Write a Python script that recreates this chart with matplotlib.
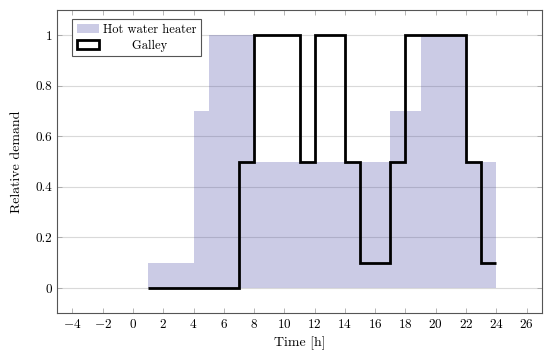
import numpy as np
import matplotlib.pyplot as plt
from matplotlib.patches import Patch

plt.rcParams['font.family'] = 'serif'
plt.rcParams['font.serif'] = ['cmr10', 'DejaVu Serif']
plt.rcParams['mathtext.fontset'] = 'cm'
plt.rcParams['axes.formatter.use_mathtext'] = True

# hourly values, hour h covers [h, h+1)
edges = np.arange(1, 25)
heater = [0.1, 0.1, 0.1, 0.7, 1, 1, 1,
          0.5, 0.5, 0.5, 0.5, 0.5, 0.5, 0.5, 0.5, 0.5,
          0.7, 0.7, 1, 1, 1, 0.5, 0.5]
galley = [0, 0, 0, 0, 0, 0, 0.5, 1, 1, 1, 0.5, 1, 1, 0.5,
          0.1, 0.1, 0.5, 1, 1, 1, 1, 0.5, 0.1]

fig = plt.figure(figsize=(5.5, 3.59), dpi=100)
ax = fig.add_axes([0.1042, 0.1273, 0.8807, 0.8449])

ax.grid(axis='y', color='#d9d9d9', lw=0.8)
ax.set_axisbelow(True)

ax.stairs(heater, edges, fill=True, color='#333399', alpha=0.25, lw=0)
ax.stairs(galley, edges, baseline=None, color='black', lw=2.0)

ax.set_xlim(-5, 27)
ax.set_ylim(-0.1, 1.1)
ax.set_xticks(np.arange(-4, 27, 2))
ax.set_yticks([0, 0.2, 0.4, 0.6, 0.8, 1])
ax.set_yticklabels(['0', '0.2', '0.4', '0.6', '0.8', '1'])
ax.tick_params(direction='in', top=True, right=True, labelsize=9.5,
               length=3.5, width=0.5, color='#999999')
for s in ax.spines.values():
    s.set_linewidth(0.8)
    s.set_color('#555555')

ax.set_xlabel('Time [h]', fontsize=10)
ax.set_ylabel('Relative demand', fontsize=10, labelpad=9)

handles = [Patch(facecolor='#333399', alpha=0.25, lw=0),
           Patch(facecolor='white', edgecolor='black', lw=2.0)]
leg = ax.legend(handles, ['Hot water heater', '       Galley'],
                loc='upper left', bbox_to_anchor=(0.031, 0.969),
                fancybox=False, edgecolor='#555555', framealpha=1,
                fontsize=9, handlelength=1.75, handleheight=0.7,
                borderpad=0.35, labelspacing=0.3, handletextpad=0.35,
                borderaxespad=0)
leg.get_frame().set_linewidth(0.8)

plt.savefig('out.png', dpi=100)
